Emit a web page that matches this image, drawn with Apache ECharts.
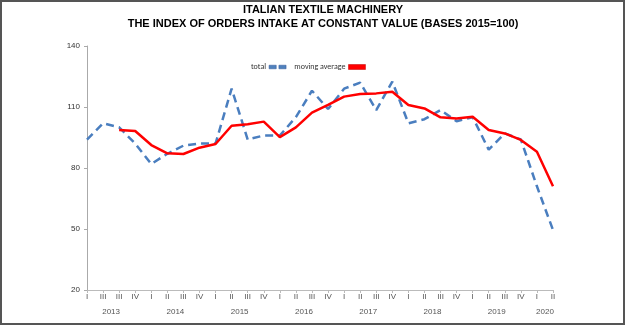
<!DOCTYPE html>
<html>
<head>
<meta charset="utf-8">
<script src="https://cdn.jsdelivr.net/npm/echarts@6/dist/echarts.min.js"></script>
<style>
html,body{margin:0;padding:0;background:#fff;}
#chart{width:625px;height:325px;}
</style>
</head>
<body>
<div id="chart"></div>
<script>
const titleLines = ["ITALIAN TEXTILE MACHINERY", "THE INDEX OF ORDERS INTAKE AT CONSTANT VALUE (BASES 2015=100)"];
const quarters = ["I","III","III","IV","I","II","III","IV","I","II","III","IV","I","II","III","IV","I","II","III","IV","I","II","III","IV","I","II","III","IV","I","II"];
const years = ["2013","2014","2015","2016","2017","2018","2019","2020"];
const total = [94,102,100,92,82,87,91,92,92,119,94,96,96,105,118,109,119,122,108.5,122.5,102,104,108.5,103,105,89,97,94,71,49.5];
const movingAverage = [null,null,98.7,98.2,91.3,87.2,86.9,90,91.8,100.8,101.5,102.8,95.2,100,107.2,111,115.1,116.4,116.7,117.5,111,109.3,104.9,104.4,105.2,98.7,97,93.8,88,71];
const yTicks = {min:20, max:140, interval:30};

// year label positions: centre of each year's quarters
const yearPos = years.map((y, i) => {
  const first = i * 4;
  const last = Math.min(first + 3, quarters.length - 1);
  return (first + last) / 2;
});

const titleFont = {fontSize:11, fontWeight:'bold', color:'#000', fontFamily:'Liberation Sans, Arial, sans-serif'};

const chart = echarts.init(document.getElementById('chart'), null, {renderer:'canvas'});
chart.setOption({
  animation:false,
  backgroundColor:'#fff',
  textStyle:{fontFamily:'Liberation Sans, Arial, sans-serif'},
  title:[
    {text:titleLines[0], left:323, top:4.5, textAlign:'center', padding:0, textStyle:titleFont},
    {text:titleLines[1], left:323, top:18, textAlign:'center', padding:0, textStyle:titleFont}
  ],
  legend:{
    top:58, left:246,
    align:'right',
    itemWidth:17, itemHeight:5, itemGap:8,
    textStyle:{fontSize:8, color:'#333', fontFamily:'Carlito, Liberation Sans, sans-serif', padding:[0,-2,0,0]},
    data:[
      {name:'total', icon:'path://M0,0 L8,0 L8,4 L0,4 Z M11,0 L19,0 L19,4 L11,4 Z', itemStyle:{color:'#4f81bd', borderColor:'#2f5597', borderWidth:0.5}},
      {name:'moving average', icon:'rect', itemStyle:{color:'#ff0000', borderColor:'#c00000', borderWidth:0.5}}
    ]
  },
  graphic:[{
    type:'rect', silent:true, z:100,
    shape:{x:1, y:1, width:623, height:323},
    style:{fill:'none', stroke:'#555', lineWidth:2}
  }],
  grid:{left:87, right:72, top:46, bottom:35, containLabel:false},
  xAxis:[{
    type:'category', data:quarters, boundaryGap:false,
    axisLine:{lineStyle:{color:'#bbb'}},
    axisTick:{show:true, length:3, lineStyle:{color:'#bbb'}, alignWithLabel:true},
    axisLabel:{interval:0, fontSize:8, color:'#555', margin:3}
  },{
    type:'value', position:'bottom', min:0, max:quarters.length-1, interval:0.5,
    axisLine:{show:false}, axisTick:{show:false}, splitLine:{show:false},
    axisLabel:{fontSize:8, color:'#555', margin:18, showMinLabel:true, showMaxLabel:true,
      formatter:function(v){
        const idx = yearPos.findIndex(p => Math.abs(p - v) < 0.01);
        return idx >= 0 ? years[idx] : '';
      }}
  }],
  yAxis:{
    type:'value', min:yTicks.min, max:yTicks.max, interval:yTicks.interval,
    axisLine:{show:true, lineStyle:{color:'#aaa'}},
    axisTick:{show:true, length:3, lineStyle:{color:'#aaa'}},
    splitLine:{show:false},
    axisLabel:{fontSize:8, color:'#333', margin:7}
  },
  series:[{
    name:'total', type:'line', data:total, xAxisIndex:0,
    symbol:'none', smooth:false,
    lineStyle:{color:'#4a7ebf', width:2.5, type:[8,5]},
    itemStyle:{color:'#4a7ebf'}
  },{
    name:'moving average', type:'line', data:movingAverage, xAxisIndex:0,
    symbol:'none', smooth:false, connectNulls:false,
    lineStyle:{color:'#ff0000', width:2.5},
    itemStyle:{color:'#ff0000'}
  }]
});
</script>
</body>
</html>
